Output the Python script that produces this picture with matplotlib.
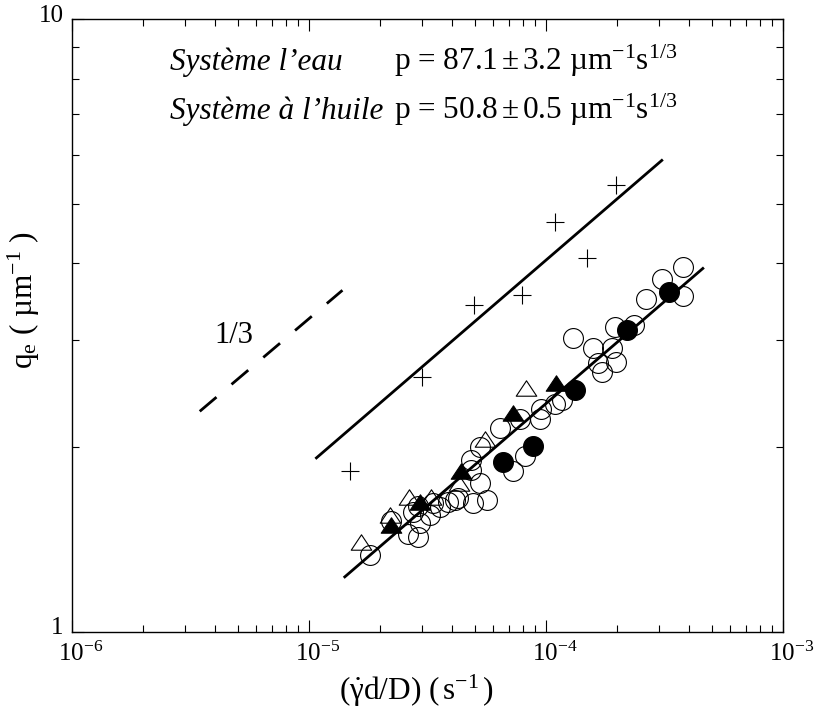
import numpy as np
import matplotlib
matplotlib.use('Agg')
import matplotlib.pyplot as plt
from matplotlib.transforms import ScaledTranslation
from matplotlib.ticker import FixedLocator, NullFormatter
from matplotlib.path import Path

plt.rcParams['font.family'] = ['Liberation Serif', 'DejaVu Serif']
plt.rcParams['mathtext.fontset'] = 'custom'
plt.rcParams['mathtext.rm'] = 'Liberation Serif'
plt.rcParams['mathtext.it'] = 'Liberation Serif:italic'
plt.rcParams['mathtext.bf'] = 'Liberation Serif:bold'

# ---------------- data ----------------
open_circle_x = [1.804e-5, 2.213e-5, 2.61e-5, 2.74e-5, 2.88e-5, 2.88e-5, 2.93e-5, 3.23e-5,
                 3.33e-5, 3.56e-5, 3.85e-5, 4.12e-5, 4.24e-5, 4.81e-5, 4.81e-5, 4.91e-5,
                 5.25e-5, 5.25e-5, 5.62e-5, 6.37e-5, 7.23e-5, 7.74e-5, 8.12e-5, 9.40e-5,
                 9.49e-5, 1.087e-4, 1.164e-4, 1.295e-4, 1.572e-4, 1.650e-4, 1.715e-4,
                 1.890e-4, 1.946e-4, 1.965e-4, 2.363e-4, 2.630e-4, 3.10e-4, 3.77e-4, 3.77e-4]
open_circle_y = [1.334, 1.516, 1.444, 1.569, 1.428, 1.604, 1.505, 1.551,
                 1.623, 1.598, 1.628, 1.641, 1.653, 1.837, 1.907, 1.623,
                 1.749, 2.002, 1.641, 2.150, 1.830, 2.225, 1.936, 2.225,
                 2.310, 2.354, 2.390, 3.017, 2.906, 2.747, 2.655,
                 2.906, 3.145, 2.757, 3.169, 3.494, 3.766, 3.533, 3.940]

filled_circle_x = [6.58e-5, 8.80e-5, 1.320e-4, 2.194e-4, 3.30e-4]
filled_circle_y = [1.891, 2.011, 2.481, 3.109, 3.587]

open_triangle_x = [1.653e-5, 2.206e-5, 2.634e-5, 3.279e-5, 4.28e-5, 5.51e-5, 8.26e-5]
open_triangle_y = [1.403, 1.551, 1.661, 1.660, 1.749, 2.064, 2.497]

filled_triangle_x = [2.228e-5, 2.932e-5, 4.394e-5, 7.266e-5, 1.098e-4]
filled_triangle_y = [1.494, 1.630, 1.830, 2.273, 2.544]

cross_x = [1.496e-5, 2.99e-5, 4.97e-5, 7.94e-5, 1.090e-4, 1.487e-4, 1.978e-4]
cross_y = [1.830, 2.603, 3.412, 3.543, 4.667, 4.076, 5.37]

# fits q = p * (gamma d / D)^(1/3)
p_water = 87.1
p_oil = 50.8
water_fit_xrange = [1.075e-5, 3.08e-4]
oil_fit_xrange = [1.416e-5, 4.59e-4]
exponent = 1.0 / 3.0

# slope guide
guide_x = [3.46e-6, 1.384e-5]
guide_y = [2.29, 3.61]
guide_label = "1/3"
guide_label_pos = (4.0e-6, 2.96)

xticks = [1e-6, 1e-5, 1e-4, 1e-3]
xticklabels = [r'$10^{-6}$', r'$10^{-5}$', r'$10^{-4}$', r'$10^{-3}$']
yticks = [1, 10]
yticklabels = ['1', '10']

line1_name = "Système l’eau"
line1_val = r"p = 87.1$\,$±$\,$3.2 µm$^{-1}$s$^{1/3}$"
line2_name = "Système à l’huile"
line2_val = r"p = 50.8$\,$±$\,$0.5 µm$^{-1}$s$^{1/3}$"

xlabel = r"$\left(\dot{\mathrm{γ}}\mathrm{d/D}\right)$ ($\,$s$^{-1}\,$)"
ylabel = r"q$_{\mathrm{e}}$ ( µm$^{-1}$ )"

# ---------------- figure ----------------
fig = plt.figure(figsize=(8.18, 7.19), dpi=100)
ax = fig.add_axes([0.0880, 0.1214, 0.9572 - 0.0880, 0.9732 - 0.1214])
ax.set_xscale('log')
ax.set_yscale('log')
ax.set_xlim(1e-6, 1e-3)
ax.set_ylim(1, 10)

# fit lines
xw = np.geomspace(*water_fit_xrange, 50)
ax.plot(xw, p_water * xw ** exponent, color='black', lw=2.0, zorder=2)
xo = np.geomspace(*oil_fit_xrange, 50)
ax.plot(xo, p_oil * xo ** exponent, color='black', lw=2.0, zorder=2)

# guide
gl, = ax.plot(guide_x, guide_y, color='black', lw=2.0, zorder=2)
gl.set_dashes((7.9, 7.1))
gl.set_dash_capstyle('butt')
ax.text(guide_label_pos[0], guide_label_pos[1], guide_label, fontsize=22,
        ha='left', va='baseline')

tri = Path([(-1, -0.75), (1, -0.75), (0, 0.75), (-1, -0.75)],
           [Path.MOVETO, Path.LINETO, Path.LINETO, Path.CLOSEPOLY])

ax.plot(open_circle_x, open_circle_y, ls='none', marker='o', ms=14.3,
        mfc='none', mec='black', mew=0.8, zorder=3)
ax.plot(open_triangle_x, open_triangle_y, ls='none', marker=tri, ms=14.8,
        mfc='none', mec='black', mew=0.8, zorder=3)
ax.plot(filled_triangle_x, filled_triangle_y, ls='none', marker=tri, ms=14.8,
        mfc='black', mec='black', mew=0.8, zorder=4)
ax.plot(filled_circle_x, filled_circle_y, ls='none', marker='o', ms=14.3,
        mfc='black', mec='black', mew=0.8, zorder=4)
ax.plot(cross_x, cross_y, ls='none', marker='+', ms=12.7,
        mec='black', mew=0.8, zorder=4)

# texts
ax.text(0.1378, 0.9172, line1_name, transform=ax.transAxes, fontsize=22.5,
        style='italic', ha='left', va='baseline')
ax.text(0.4529, 0.9172, line1_val, transform=ax.transAxes, fontsize=22.5,
        ha='left', va='baseline')
ax.text(0.1378, 0.8372, line2_name, transform=ax.transAxes, fontsize=22.5,
        style='italic', ha='left', va='baseline')
ax.text(0.4529, 0.8372, line2_val, transform=ax.transAxes, fontsize=22.5,
        ha='left', va='baseline')

# ticks
ax.xaxis.set_major_locator(FixedLocator(xticks))
ax.set_xticklabels(xticklabels)
ax.xaxis.set_minor_locator(FixedLocator([m * 10.0 ** e for e in (-6, -5, -4) for m in range(2, 10)]))
ax.xaxis.set_minor_formatter(NullFormatter())
ax.yaxis.set_major_locator(FixedLocator(yticks))
ax.set_yticklabels(yticklabels)
ax.yaxis.set_minor_locator(FixedLocator(list(range(2, 10))))
ax.yaxis.set_minor_formatter(NullFormatter())

ax.tick_params(which='both', direction='in', top=True, right=True, width=0.8)
ax.tick_params(which='major', length=8.6, labelsize=18)
ax.tick_params(axis='x', which='major', pad=7)
ax.tick_params(axis='y', which='major', pad=6)
ax.tick_params(which='minor', length=4.8)
for s in ax.spines.values():
    s.set_linewidth(1.0)

for lab in ax.get_xticklabels():
    lab.set_transform(lab.get_transform() + ScaledTranslation(0.09, 0, fig.dpi_scale_trans))
for lab in ax.get_yticklabels():
    lab.set_transform(lab.get_transform() + ScaledTranslation(0, 0.06, fig.dpi_scale_trans))

ax.set_xlabel(xlabel, fontsize=22.5)
ax.xaxis.set_label_coords(0.484, -0.067)
ax.set_ylabel(ylabel, fontsize=22.5)
ax.yaxis.set_label_coords(-0.042, 0.542)

fig.savefig('out.png', dpi=100)
